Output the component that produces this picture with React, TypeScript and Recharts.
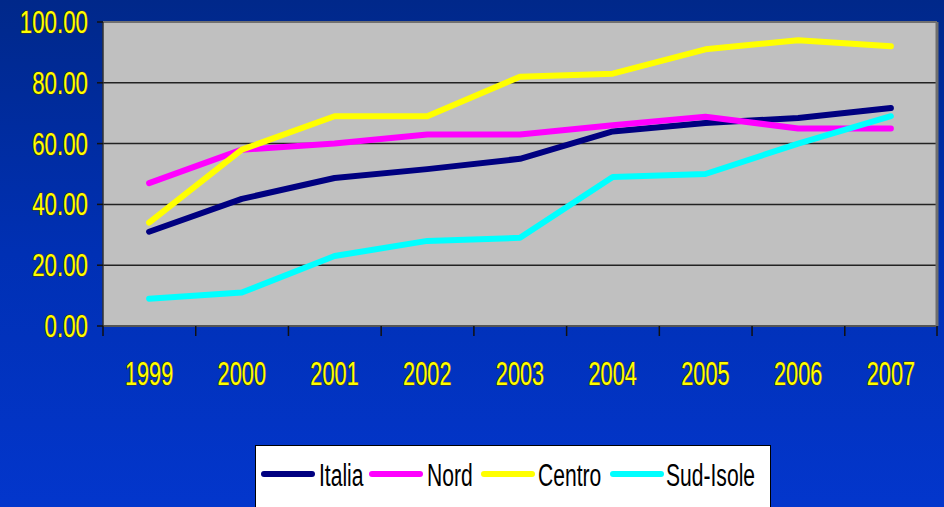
import React from 'react';
import { LineChart, Line, XAxis, YAxis, CartesianGrid, ReferenceLine } from 'recharts';

const years = ['1999', '2000', '2001', '2002', '2003', '2004', '2005', '2006', '2007'];
const italia = [31, 41.8, 48.7, 51.6, 55, 64, 66.8, 68.4, 71.7];
const nord = [47, 58, 60, 63, 63, 66, 68.8, 65, 65];
const centro = [34, 58, 69, 69, 82, 83, 91, 94, 92];
const sudIsole = [9, 11, 23, 28, 29, 49, 50, 60, 69];
const yTicks = [0, 20, 40, 60, 80, 100];

const series = [
  { key: 'italia', name: 'Italia', color: '#000080' },
  { key: 'nord', name: 'Nord', color: '#FF00FF' },
  { key: 'centro', name: 'Centro', color: '#FFFF00' },
  { key: 'sudIsole', name: 'Sud-Isole', color: '#00FFFF' },
];

const data = years.map((year, i) => ({
  year,
  italia: italia[i],
  nord: nord[i],
  centro: centro[i],
  sudIsole: sudIsole[i],
}));

const FONT = '"Liberation Sans", Arial, sans-serif';
const BAND = 830 / 9;

// narrow yellow labels with a dark outline, like the old Excel look
const Label = ({ x, y, size, sx, anchor, children }: any) => (
  <text
    transform={`translate(${x},${y}) scale(${sx},1)`}
    textAnchor={anchor}
    fontFamily={FONT}
    fontSize={size}
    fill="#FFFF00"
    stroke="#4a3a00"
    strokeWidth={1.2}
    paintOrder="stroke"
  >
    {children}
  </text>
);

const YTick = (props: any) => {
  const { x, y, payload } = props;
  return (
    <Label x={x - 7} y={y + 11} size={31} sx={0.72} anchor="end">
      {payload.value.toFixed(2)}
    </Label>
  );
};

const XTick = (props: any) => {
  const { x, y, payload, index } = props;
  const top = y - 8;
  return (
    <g>
      <line x1={x - BAND / 2} x2={x - BAND / 2} y1={top} y2={top + 10} stroke="#111" strokeWidth={1.5} />
      {index === years.length - 1 && (
        <line x1={x + BAND / 2} x2={x + BAND / 2} y1={top} y2={top + 10} stroke="#111" strokeWidth={1.5} />
      )}
      <Label x={x} y={top + 59} size={33} sx={0.66} anchor="middle">
        {payload.value}
      </Label>
    </g>
  );
};

// legend item slots: x of line start, x of text start
const legendSlots = [
  { line: 5, text: 63 },
  { line: 113, text: 171 },
  { line: 225, text: 282 },
  { line: 354, text: 410 },
];

const LegendBox = () => (
  <svg
    width={514}
    height={70}
    style={{ position: 'absolute', left: 255, top: 445, background: '#fff', border: '1px solid #000' }}
  >
    {series.map((s, i) => (
      <g key={s.key}>
        <line
          x1={legendSlots[i].line + 3}
          x2={legendSlots[i].line + 51}
          y1={28}
          y2={28}
          stroke={s.color}
          strokeWidth={6}
          strokeLinecap="round"
        />
        <text
          transform={`translate(${legendSlots[i].text},40) scale(0.68,1)`}
          fontFamily={FONT}
          fontSize={31}
          fill="#000"
        >
          {s.name}
        </text>
      </g>
    ))}
  </svg>
);

export default function App() {
  return (
    <div
      style={{
        position: 'absolute',
        left: 0,
        top: 0,
        width: 944,
        height: 507,
        overflow: 'hidden',
        background: 'linear-gradient(180deg, #00288a 0%, #0030b4 50%, #0336cc 100%)',
      }}
    >
      <LineChart width={944} height={507} data={data} margin={{ top: 22, right: 0, bottom: 121, left: 0 }}>
        <CartesianGrid
          vertical={false}
          fill="#C0C0C0"
          stroke="#222"
          strokeWidth={1.5}
          horizontalValues={[20, 40, 60, 80]}
        />
        <XAxis
          dataKey="year"
          padding={{ left: BAND / 2, right: BAND / 2 }}
          tick={<XTick />}
          tickLine={false}
          axisLine={{ stroke: '#555', strokeWidth: 2 }}
          height={60}
          interval={0}
        />
        <YAxis
          domain={[0, 100]}
          ticks={yTicks}
          width={103}
          tick={<YTick />}
          tickSize={6}
          tickLine={{ stroke: '#111', strokeWidth: 1.5 }}
          axisLine={{ stroke: '#333', strokeWidth: 1.5 }}
        />
        <YAxis
          yAxisId="frame"
          orientation="right"
          domain={[0, 100]}
          width={7}
          tick={false}
          tickLine={false}
          axisLine={{ stroke: '#6e6e6e', strokeWidth: 3 }}
        />
        <ReferenceLine y={100} stroke="#707070" strokeWidth={2} />
        {series.map((s) => (
          <Line
            key={s.key}
            type="linear"
            dataKey={s.key}
            name={s.name}
            stroke={s.color}
            strokeWidth={6}
            dot={false}
            strokeLinecap="round"
            strokeLinejoin="round"
            isAnimationActive={false}
          />
        ))}
      </LineChart>
      <LegendBox />
    </div>
  );
}
